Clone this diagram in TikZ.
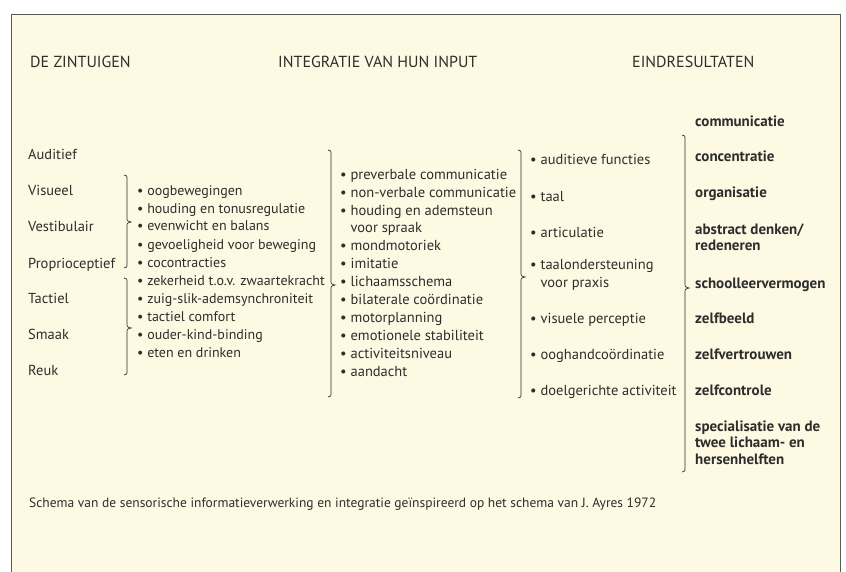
\documentclass[tikz,border=0pt]{standalone}
\usepackage{fontspec}
\setmainfont{PT Sans}
\definecolor{creamfill}{RGB}{254, 249, 226}
\definecolor{framegray}{RGB}{90, 90, 90}
\definecolor{textgray}{RGB}{45, 45, 45}

% curly brace: x, top, tip, bottom
\newcommand\curlybrace[4]{%
  \draw[bracestyle] (#1-3,#2) .. controls (#1,#2) and (#1,#2+1) .. (#1,#2+5)
    -- (#1,#3-5) .. controls (#1,#3-1) .. (#1+4,#3)
    .. controls (#1,#3+1) .. (#1,#3+5)
    -- (#1,#4-5) .. controls (#1,#4-1) and (#1,#4) .. (#1-3,#4);}

\begin{document}
\begin{tikzpicture}[
  x=1pt, y=-1pt,
  font=\fontsize{14.5}{17.7}\selectfont,
  txt/.style={anchor=base west, inner sep=0pt, text=textgray, align=left},
  item/.style={txt, font=\fontsize{14}{17.7}\selectfont},
  head/.style={txt, font=\fontsize{16}{18}\selectfont},
  res/.style={txt, font=\fontsize{15}{16.5}\selectfont\bfseries},
  bracestyle/.style={draw=textgray, line width=0.7pt},
]
\useasboundingbox (0,0) rectangle (846,572);

% Frame
\fill[creamfill] (11,14) rectangle (840,572);
\draw[framegray, line width=0.8pt] (11,572) -- (11,14) -- (840,14) -- (840,572);

% Headings
\node[head] (hzin) at (30,68) {DE ZINTUIGEN};
\node[head] (hint) at (278,68) {INTEGRATIE VAN HUN INPUT};
\node[head] (heind) at (632,68) {EINDRESULTATEN};

% Senses
\node[txt] (aud) at (28,160) {Auditief};
\node[txt] (vis) at (28,196) {Visueel};
\node[txt] (ves) at (28,232) {Vestibulair};
\node[txt] (pro) at (28,268) {Proprioceptief};
\node[txt] (tac) at (28,303) {Tactiel};
\node[txt] (sma) at (28,339) {Smaak};
\node[txt] (reu) at (28,375) {Reuk};

% First processing step
\node[item] (oog) at (137,196) {\textbullet\ oogbewegingen};
\node[item] (hou) at (137,213.5) {\textbullet\ houding en tonusregulatie};
\node[item] (eve) at (137,231) {\textbullet\ evenwicht en balans};
\node[item] (gev) at (137,249) {\textbullet\ gevoeligheid voor beweging};
\node[item] (coc) at (137,267) {\textbullet\ cocontracties};
\node[item] (zek) at (137,285) {\textbullet\ zekerheid t.o.v. zwaartekracht};
\node[item] (zui) at (137,303) {\textbullet\ zuig-slik-ademsynchroniteit};
\node[item] (tco) at (137,321) {\textbullet\ tactiel comfort};
\node[item] (oud) at (137,339) {\textbullet\ ouder-kind-binding};
\node[item] (ete) at (137,357) {\textbullet\ eten en drinken};

% Integration
\node[txt] (pre) at (340,180) {\textbullet\ preverbale communicatie};
\node[txt] (non) at (340,198) {\textbullet\ non-verbale communicatie};
\node[txt] (ade) at (340,233) {\textbullet\ houding en ademsteun\\\phantom{\textbullet\ }voor spraak};
\node[txt] (mon) at (340,251) {\textbullet\ mondmotoriek};
\node[txt] (imi) at (340,268) {\textbullet\ imitatie};
\node[txt] (lic) at (340,286) {\textbullet\ lichaamsschema};
\node[txt] (bil) at (340,304) {\textbullet\ bilaterale coördinatie};
\node[txt] (mot) at (340,322) {\textbullet\ motorplanning};
\node[txt] (emo) at (340,340) {\textbullet\ emotionele stabiliteit};
\node[txt] (act) at (340,358) {\textbullet\ activiteitsniveau};
\node[txt] (aan) at (340,376) {\textbullet\ aandacht};

% Functions
\node[txt] (auf) at (530,165) {\textbullet\ auditieve functies};
\node[txt] (taa) at (530,202) {\textbullet\ taal};
\node[txt] (art) at (530,238) {\textbullet\ articulatie};
\node[txt] (tao) at (530,287) {\textbullet\ taalondersteuning\\\phantom{\textbullet\ }voor praxis};
\node[txt] (vip) at (530,323) {\textbullet\ visuele perceptie};
\node[txt] (ooh) at (530,359) {\textbullet\ ooghandcoördinatie};
\node[txt] (doe) at (530,395) {\textbullet\ doelgerichte activiteit};

% End results
\node[res] (com) at (695,127) {communicatie};
\node[res] (con) at (695,162) {concentratie};
\node[res] (org) at (695,198) {organisatie};
\node[res] (abs) at (695,251) {abstract denken/\\redeneren};
\node[res] (sch) at (695,288) {schoolleervermogen};
\node[res] (zbe) at (695,323) {zelfbeeld};
\node[res] (zve) at (695,359) {zelfvertrouwen};
\node[res] (zco) at (695,395) {zelfcontrole};
\node[res] (spe) at (695,464) {specialisatie van de\\twee lichaam- en\\hersenhelften};

% Braces
\curlybrace{127}{175}{222}{268}
\curlybrace{127}{278}{328}{375}
\curlybrace{331}{150}{285}{397}
\curlybrace{521}{150}{277}{398}
\curlybrace{685}{135}{288}{472}

% Caption
\node[txt, font=\fontsize{13.5}{15}\selectfont] (cap) at (29,507)
  {Schema van de sensorische informatieverwerking en integratie geïnspireerd op het schema van J. Ayres 1972};

\end{tikzpicture}
\end{document}
